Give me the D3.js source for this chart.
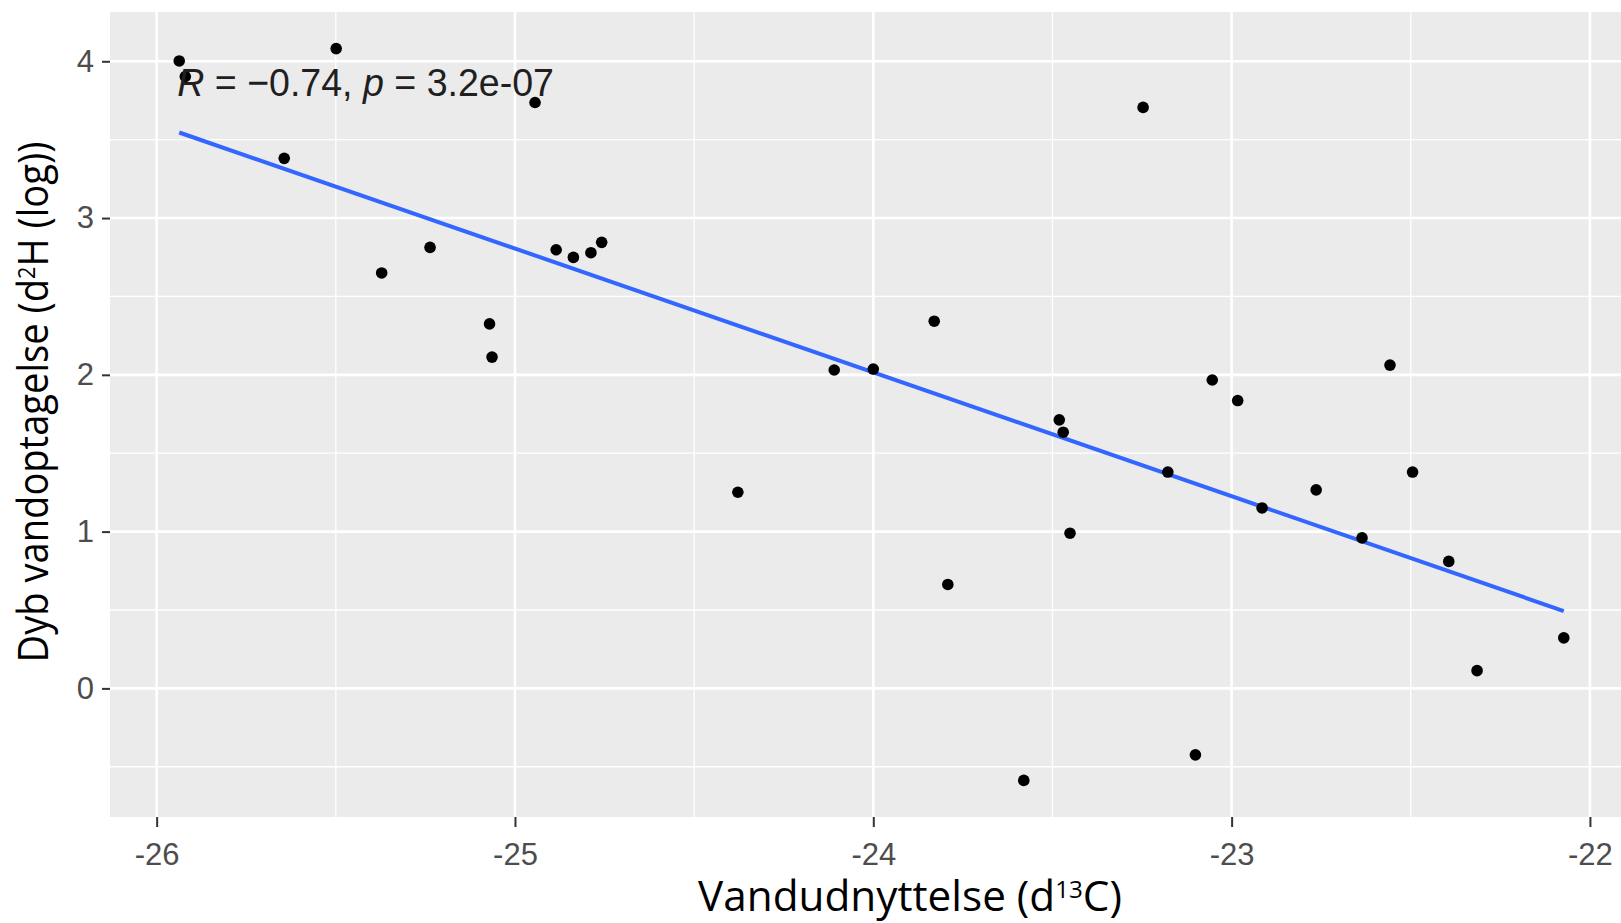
<!DOCTYPE html>
<html>
<head>
<meta charset="utf-8">
<script src="https://cdn.jsdelivr.net/npm/d3@7/dist/d3.min.js"></script>
<style>
    body { margin: 0; background: #fff; }
    svg { display: block; }
</style>
</head>
<body>
<div id="chart"></div>
<script>
// d13C (x) og log d2H (y)
const xVals = [-25.937, -25.920, -25.499, -25.644, -24.944, -25.372, -25.237, -25.071, -25.064,
    -24.885, -24.837, -24.788, -24.758, -24.109, -24.000, -23.830, -23.481, -23.470, -23.247,
    -23.054, -22.983, -22.558, -24.378, -23.451, -23.792, -23.580, -23.178, -22.915, -22.764,
    -22.495, -22.636, -22.394, -23.101, -22.315, -22.073];
const yVals = [4.002, 3.903, 4.081, 3.381, 3.737, 2.650, 2.813, 2.325, 2.113,
    2.798, 2.749, 2.779, 2.845, 2.031, 2.037, 2.342, 1.713, 1.634, 3.706,
    1.967, 1.836, 2.062, 1.251, 0.990, 0.663, -0.587, 1.380, 1.151, 1.266,
    1.380, 0.960, 0.810, -0.424, 0.113, 0.322];

const xTicks = [-26, -25, -24, -23, -22];
const xMinor = [-25.5, -24.5, -23.5, -22.5];
const yTicks = [0, 1, 2, 3, 4];
const yMinor = [-0.5, 0.5, 1.5, 2.5, 3.5];

const corR = '−0.74';
const corP = '3.2e-07';
const xTitle = ['Vandudnyttelse (d', '13', 'C)'];
const yTitle = ['Dyb vandoptagelse (d', '2', 'H (log))'];

let width = 1621;
let height = 923;
let panel = {left: 110, right: 1633, top: 12, bottom: 817};

let points = xVals.map((x, i) => ({x: x, y: yVals[i]}));

let svg = d3.select('#chart').append('svg')
    .attr('width', width)
    .attr('height', height);

// ggplot udvider skalaen 5% til hver side
function expand(ext) {
    let pad = (ext[1] - ext[0]) * 0.05;
    return [ext[0] - pad, ext[1] + pad];
}

const x = d3.scaleLinear().domain(expand(d3.extent(xVals))).range([panel.left, panel.right]);
const y = d3.scaleLinear().domain(expand(d3.extent(yVals))).range([panel.bottom, panel.top]);

svg.append('rect')
    .attr('x', panel.left)
    .attr('y', panel.top)
    .attr('width', panel.right - panel.left)
    .attr('height', panel.bottom - panel.top)
    .attr('fill', '#ebebeb');

///Gitter
let grid = svg.append('g');
grid.selectAll('.vminor').data(xMinor).enter().append('line')
    .attr('x1', d => x(d)).attr('x2', d => x(d))
    .attr('y1', panel.top).attr('y2', panel.bottom)
    .attr('stroke', '#fff').attr('stroke-width', 1.3);
grid.selectAll('.hminor').data(yMinor).enter().append('line')
    .attr('y1', d => y(d)).attr('y2', d => y(d))
    .attr('x1', panel.left).attr('x2', panel.right)
    .attr('stroke', '#fff').attr('stroke-width', 1.3);
grid.selectAll('.vmajor').data(xTicks).enter().append('line')
    .attr('x1', d => x(d)).attr('x2', d => x(d))
    .attr('y1', panel.top).attr('y2', panel.bottom)
    .attr('stroke', '#fff').attr('stroke-width', 2.6);
grid.selectAll('.hmajor').data(yTicks).enter().append('line')
    .attr('y1', d => y(d)).attr('y2', d => y(d))
    .attr('x1', panel.left).attr('x2', panel.right)
    .attr('stroke', '#fff').attr('stroke-width', 2.6);

///Akser
let xAxis = svg.append('g')
    .attr('transform', `translate(0,${panel.bottom})`)
    .call(d3.axisBottom(x).tickValues(xTicks).tickSize(10).tickPadding(16).tickFormat(d3.format('d')));
let yAxis = svg.append('g')
    .attr('transform', `translate(${panel.left},0)`)
    .call(d3.axisLeft(y).tickValues(yTicks).tickSize(8).tickPadding(8).tickFormat(d3.format('d')));

[xAxis, yAxis].forEach(function(a) {
    a.select('.domain').remove();
    a.selectAll('line').attr('stroke', '#333').attr('stroke-width', 2);
    a.selectAll('text')
        .attr('fill', '#4d4d4d')
        .style('font-family', '"Liberation Sans", Arial, sans-serif')
        .style('font-size', '31px');
});
// ggplot bruger bindestreg, ikke minus
xAxis.selectAll('text').text(d => '-' + Math.abs(d));

///Regressionslinje
let mx = d3.mean(xVals), my = d3.mean(yVals);
let sxy = d3.sum(points, d => (d.x - mx) * (d.y - my));
let sxx = d3.sum(points, d => (d.x - mx) * (d.x - mx));
let slope = sxy / sxx;
let icpt = my - slope * mx;
let fitX = d3.extent(xVals);

svg.append('line')
    .attr('x1', x(fitX[0])).attr('y1', y(icpt + slope * fitX[0]))
    .attr('x2', x(fitX[1])).attr('y2', y(icpt + slope * fitX[1]))
    .attr('stroke', '#3366ff')
    .attr('stroke-width', 4);

///Punkter
svg.append('g')
    .selectAll('circle')
    .data(points)
    .enter()
    .append('circle')
    .attr('cx', d => x(d.x))
    .attr('cy', d => y(d.y))
    .attr('r', 5.8)
    .attr('fill', '#000');

// skalerer en tekst vandret til en bestemt bredde
function fitWidth(t, transform, target) {
    let len = t.node().getComputedTextLength();
    t.attr('transform', transform + ` scale(${target / len},1)`);
}

///Korrelation
let cor = svg.append('text')
    .attr('fill', '#1f1f1f')
    .style('font-family', '"Liberation Sans", Arial, sans-serif')
    .style('font-size', '39px');
cor.append('tspan').style('font-style', 'italic').text('R');
cor.append('tspan').text(' = ' + corR + ', ');
cor.append('tspan').style('font-style', 'italic').text('p');
cor.append('tspan').text(' = ' + corP);
fitWidth(cor, `translate(${x(d3.min(xVals)) - 2},${y(d3.max(yVals)) + 47})`, 377);

///Aksetitler
function title(parts, transform, target) {
    let t = svg.append('text')
        .attr('text-anchor', 'middle')
        .attr('fill', '#000')
        .style('font-family', '"Open Sans", "Noto Sans", sans-serif')
        .style('font-size', '42px');
    t.append('tspan').text(parts[0]);
    t.append('tspan').attr('dy', -13).style('font-size', '24px').text(parts[1]);
    t.append('tspan').attr('dy', 13).text(parts[2]);
    fitWidth(t, transform, target);
    return t;
}

title(xTitle, 'translate(910,911)', 424);
title(yTitle, 'translate(48,402) rotate(-90)', 521);
</script>
</body>
</html>
